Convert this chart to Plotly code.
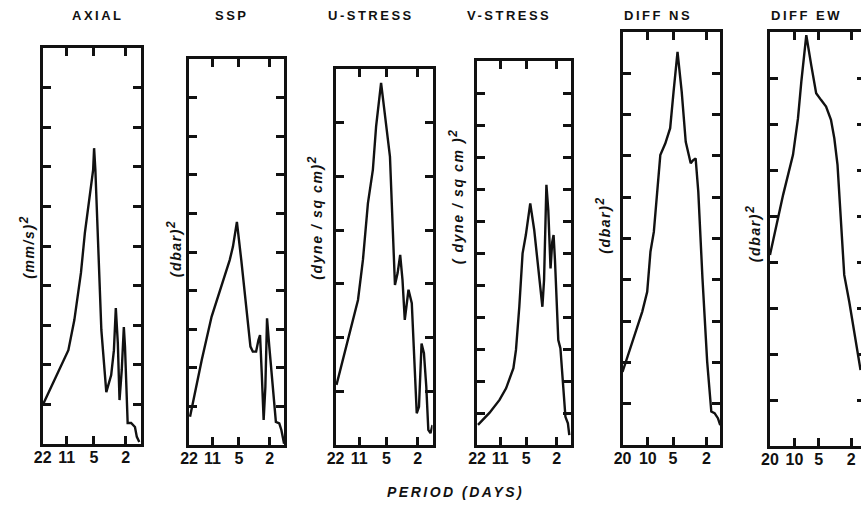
import math
import plotly.graph_objects as go

W, H = 861, 515

# ---- spectra: period (days) vs. spectral density (in axis-division units) ----
axial_period = [22, 10.47, 8.81, 7.28, 6.50, 5.63, 5.12, 4.98, 4.80, 4.04, 3.50, 3.04,
                2.81, 2.66, 2.51, 2.39, 2.24, 2.11, 2.04, 1.89, 1.71, 1.53, 1.45, 1.35]
axial_power = [0.98, 2.37, 3.13, 4.32, 5.33, 6.24, 6.92, 7.47, 6.92, 2.88, 1.31, 1.74,
               2.37, 3.43, 2.55, 1.11, 1.87, 2.95, 2.45, 0.53, 0.53, 0.43, 0.18, 0.05]

ssp_period = [21.4, 15.1, 11.27, 9.27, 7.46, 6.57, 5.96, 5.30, 4.65, 4.01, 3.54, 3.30,
              2.99, 2.79, 2.66, 2.53, 2.39, 2.27, 2.16, 2.02, 1.83, 1.66, 1.50, 1.41, 1.30]
ssp_power = [0.73, 2.20, 3.32, 3.84, 4.45, 4.79, 5.14, 5.78, 4.79, 3.50, 2.55, 2.42,
             2.42, 2.72, 2.85, 1.87, 0.65, 1.51, 3.28, 2.55, 1.51, 0.60, 0.56, 0.39, 0.03]

ustress_period = [21.4, 16.8, 13.2, 11.43, 9.89, 8.56, 7.41, 6.74, 5.83, 5.15, 4.50, 3.89,
                  3.60, 3.34, 3.12, 2.92, 2.75, 2.62, 2.38, 2.23, 2.06, 1.93, 1.79, 1.67,
                  1.56, 1.47, 1.38, 1.30]
ustress_power = [1.12, 1.71, 2.33, 2.70, 3.45, 4.50, 5.12, 5.93, 6.74, 6.05, 5.37, 2.98,
                 3.20, 3.54, 3.07, 2.33, 2.70, 2.89, 2.64, 1.58, 0.59, 0.71, 1.89, 1.71,
                 1.09, 0.28, 0.22, 0.37]

vstress_period = [21.4, 15.07, 11.19, 9.19, 7.37, 6.82, 6.17, 5.59, 5.07, 4.44, 3.94, 3.47,
                  3.08, 2.93, 2.73, 2.58, 2.41, 2.29, 2.20, 2.11, 2.01, 1.91, 1.79, 1.66,
                  1.54, 1.43, 1.37]
vstress_power = [0.63, 1.01, 1.41, 1.77, 2.40, 2.97, 4.32, 5.99, 6.56, 7.55, 6.72, 5.57,
                 4.32, 5.16, 8.13, 7.34, 5.52, 6.35, 6.56, 5.78, 4.43, 3.28, 3.02, 1.93,
                 0.88, 0.68, 0.31]

diffns_period = [20, 15.26, 11.63, 10.16, 9.29, 8.47, 7.75, 7.09, 6.19, 5.41, 4.93, 4.42,
                 3.94, 3.53, 3.08, 2.87, 2.69, 2.50, 2.23, 1.96, 1.75, 1.60, 1.46, 1.37]
diffns_power = [1.77, 2.50, 3.23, 3.71, 4.68, 5.16, 6.13, 7.02, 7.30, 7.67, 8.55, 9.52,
                8.55, 7.34, 6.82, 6.90, 6.94, 6.13, 4.04, 2.02, 0.81, 0.77, 0.65, 0.48]

diffew_period = [20, 17.38, 13.77, 10.40, 9.03, 8.21, 7.13, 6.20, 5.39, 4.68, 4.07, 3.54,
                 3.22, 2.94, 2.67, 2.43, 2.11, 1.84, 1.53]
diffew_power = [4.15, 4.66, 5.46, 6.33, 7.12, 7.92, 8.93, 8.28, 7.67, 7.52, 7.38, 7.09,
                6.69, 6.11, 5.02, 3.72, 3.14, 2.52, 1.65]

titles = ["AXIAL", "SSP", "U-STRESS", "V-STRESS", "DIFF NS", "DIFF EW"]
units = ["(mm/s)", "(dbar)", "(dyne / sq cm)", "( dyne / sq cm )", "(dbar)", "(dbar)"]
unit_power = "2"
tick_22 = [22, 11, 5, 2]
tick_20 = [20, 10, 5, 2]
x_title = "PERIOD (DAYS)"

series = [
    (axial_period, axial_power),
    (ssp_period, ssp_power),
    (ustress_period, ustress_power),
    (vstress_period, vstress_power),
    (diffns_period, diffns_power),
    (diffew_period, diffew_power),
]

# panel layout in pixels: (left, right, top, bottom)
boxes = [(34, 133, 48, 444), (182, 278, 59, 445), (330, 428, 69, 445),
         (473, 568, 61, 445), (620, 719, 32, 445), (769, 861, 32, 446)]
x_spans = [(22, 1.30), (22, 1.30), (22, 1.30), (22, 1.30), (20, 1.36), (20, 1.51)]
y_divs = [10, 10, 7, 12, 10, 9]
x_ticks = [tick_22, tick_22, tick_22, tick_22, tick_20, tick_20]
title_x = [90, 225, 366, 505, 656, 806]
unit_pos = [(18, 247), (167, 249), (309, 218), (452, 197), (600, 226), (752, 234)]

INK = "#111111"
FONT = "Liberation Sans"


def spaced(text, px):
    return f'<span style="letter-spacing:{px}px">{text}</span>'


def unit_label(u):
    sup = f'<sup><span style="font-size:12px">{unit_power}</span></sup>'
    return spaced(u, 1.6) + sup


fig = go.Figure()
layout = dict(
    width=W, height=H, margin=dict(l=0, r=0, t=0, b=0),
    paper_bgcolor="white", plot_bgcolor="white", showlegend=False,
)
annotations = []

for i, ((per, pw), (l, r, t, b)) in enumerate(zip(series, boxes)):
    n = i + 1
    xa = "x" if n == 1 else f"x{n}"
    ya = "y" if n == 1 else f"y{n}"
    fig.add_trace(go.Scatter(x=per, y=pw, xaxis=xa, yaxis=ya, mode="lines",
                             line=dict(color=INK, width=2.4), hoverinfo="skip"))
    last = (i == 5)
    layout[f"xaxis{'' if n == 1 else n}"] = dict(
        type="log", domain=[l / W, r / W],
        range=[math.log10(x_spans[i][0]), math.log10(x_spans[i][1])],
        anchor=ya, showgrid=False, zeroline=False,
        showline=True, linecolor=INK, linewidth=3, mirror="ticks",
        ticks="inside", ticklen=8, tickwidth=2.5, tickcolor=INK,
        tickvals=x_ticks[i], ticktext=[str(v) for v in x_ticks[i]],
        tickfont=dict(family=FONT, size=16, weight="bold", color=INK),
        ticklabelstandoff=-3,
    )
    layout[f"yaxis{'' if n == 1 else n}"] = dict(
        domain=[1 - b / H, 1 - t / H], range=[0, y_divs[i]],
        anchor=xa, showgrid=False, zeroline=False,
        showline=True, linecolor=INK, linewidth=3,
        mirror=False if last else "ticks",
        ticks="inside", ticklen=8, tickwidth=2.5, tickcolor=INK,
        tickvals=list(range(1, y_divs[i])), showticklabels=False,
    )
    annotations.append(dict(
        text=spaced(titles[i], 2.5), x=title_x[i] / W, y=1 - 16 / H,
        xref="paper", yref="paper", xanchor="center", yanchor="middle",
        showarrow=False, font=dict(family=FONT, size=13, weight="bold", color=INK)))
    ux, uy = unit_pos[i]
    annotations.append(dict(
        text=unit_label(units[i]), x=ux / W, y=1 - uy / H, textangle=-90,
        xref="paper", yref="paper", xanchor="center", yanchor="middle",
        showarrow=False,
        font=dict(family=FONT, size=14, weight="bold", style="italic", color=INK)))

# right-hand frame ticks of the last panel, drawn at the paper edge
layout["yaxis7"] = dict(
    overlaying="y6", side="right", anchor="x6", range=[0, y_divs[5]],
    showgrid=False, zeroline=False, showline=False,
    ticks="inside", ticklen=4, tickwidth=2.5, tickcolor=INK,
    tickvals=list(range(1, y_divs[5])), showticklabels=False,
)
fig.add_trace(go.Scatter(x=[], y=[], xaxis="x6", yaxis="y7", mode="lines"))

annotations.append(dict(
    text=spaced(x_title, 2.5), x=451 / W, y=1 - 492 / H,
    xref="paper", yref="paper", xanchor="center", yanchor="middle", showarrow=False,
    font=dict(family=FONT, size=14, weight="bold", style="italic", color=INK)))

layout["annotations"] = annotations
fig.update_layout(**layout)
fig.write_html("out.html")
